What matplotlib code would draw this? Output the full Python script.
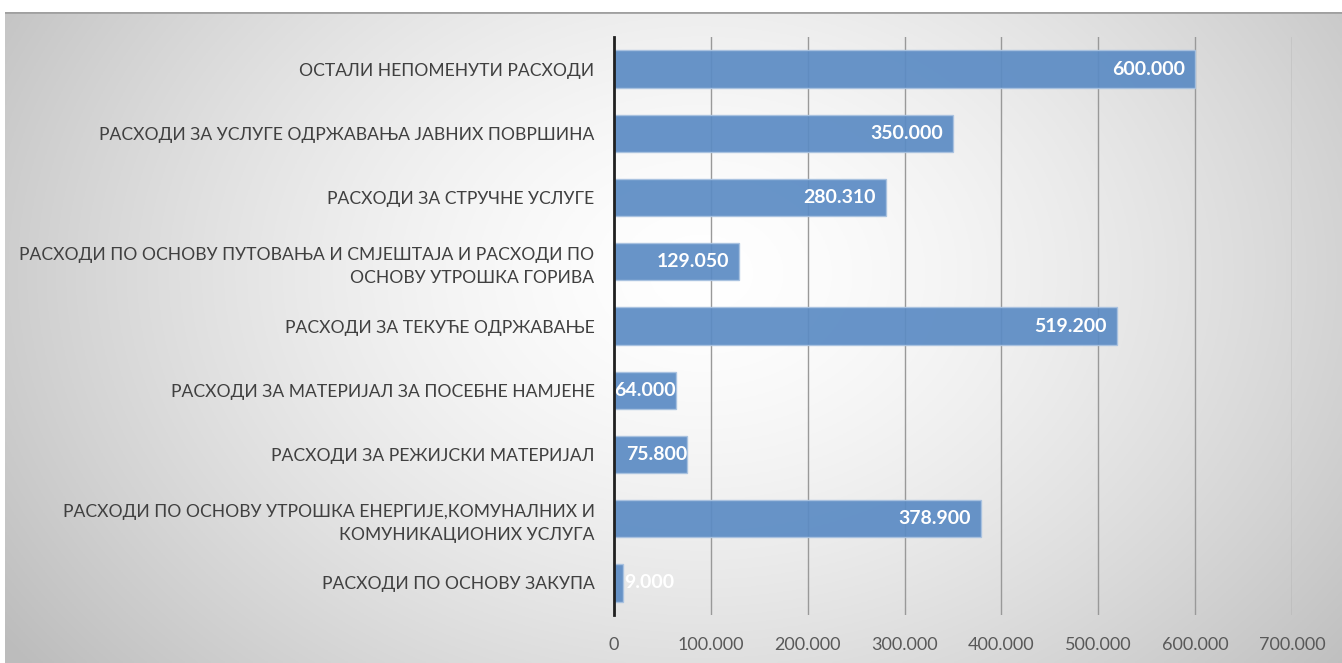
import numpy as np
import matplotlib
matplotlib.use("Agg")
import matplotlib.pyplot as plt

categories = [
    "РАСХОДИ ПО ОСНОВУ ЗАКУПА",
    "РАСХОДИ ПО ОСНОВУ УТРОШКА ЕНЕРГИЈЕ,КОМУНАЛНИХ И\nКОМУНИКАЦИОНИХ УСЛУГА",
    "РАСХОДИ ЗА РЕЖИЈСКИ МАТЕРИЈАЛ",
    "РАСХОДИ ЗА МАТЕРИЈАЛ ЗА ПОСЕБНЕ НАМЈЕНЕ",
    "РАСХОДИ ЗА ТЕКУЋЕ ОДРЖАВАЊЕ",
    "РАСХОДИ ПО ОСНОВУ ПУТОВАЊА И СМЈЕШТАЈА И РАСХОДИ ПО\nОСНОВУ УТРОШКА ГОРИВА",
    "РАСХОДИ ЗА СТРУЧНЕ УСЛУГЕ",
    "РАСХОДИ ЗА УСЛУГЕ ОДРЖАВАЊА ЈАВНИХ ПОВРШИНА",
    "ОСТАЛИ НЕПОМЕНУТИ РАСХОДИ",
]
values = [9000, 378900, 75800, 64000, 519200, 129050, 280310, 350000, 600000]
xticks = [0, 100000, 200000, 300000, 400000, 500000, 600000, 700000]


def fmt(v):
    return f"{v:,.0f}".replace(",", ".")


plt.rcParams['font.family'] = ['Lato', 'DejaVu Sans']

fig = plt.figure(figsize=(13.42, 6.63), dpi=100)

# radial gray background
bg = fig.add_axes([5 / 1342, 0, 1 - 5 / 1342, 1 - 12 / 663])
h, w = 300, 600
yy, xx = np.mgrid[0:h, 0:w]
r = np.sqrt(((xx - w * 0.52) / (w * 0.55)) ** 2 + ((yy - h * 0.40) / (h * 0.85)) ** 2)
g = np.clip(1.0 - 0.21 * r ** 1.5, 0.74, 1.0)
bg.imshow(np.dstack([g, g, g]), aspect='auto', extent=[0, 1, 0, 1])
bg.set_xlim(0, 1)
bg.set_ylim(0, 1)
bg.axhline(1, color='#a0a0a0', lw=2)
bg.axis('off')

ax = fig.add_axes([614 / 1342, 1 - 615 / 663, (1292 - 614) / 1342, (615 - 37) / 663])
ax.patch.set_alpha(0)
y = np.arange(len(categories))
ax.barh(y, values, height=0.58, color='#5b8bc4', edgecolor='#a9c2e0', linewidth=1, alpha=0.92, zorder=3)
for yi, v in zip(y, values):
    if v > 50000:
        ax.annotate(fmt(v), (v, yi), xytext=(-10 if v > 100000 else 0, 0), textcoords='offset pixels',
                    ha='right', va='center', color='white', fontsize=14, fontweight='bold', zorder=4)
    else:
        ax.annotate(fmt(v), (v, yi), xytext=(2, 0), textcoords='offset pixels',
                    ha='left', va='center', color='white', fontsize=14, fontweight='bold', zorder=4)

ax.set_xlim(0, 700000)
ax.set_ylim(-0.5, len(categories) - 0.5)
ax.set_xticks(xticks)
ax.set_xticklabels([fmt(t) for t in xticks], fontsize=13, color='#595959')
ax.set_yticks(y)
ax.set_yticklabels(categories, fontsize=12.6, color='#404040', linespacing=1.5)
ax.tick_params(axis='both', length=0)
ax.tick_params(axis='x', pad=16)
ax.tick_params(axis='y', pad=14)
ax.grid(axis='x', color='#999999', linewidth=1, zorder=0)
for s in ['top', 'right', 'bottom']:
    ax.spines[s].set_visible(False)
ax.spines['left'].set_color('#202020')
ax.spines['left'].set_linewidth(2)
ax.spines['left'].set_zorder(5)

fig.savefig("out.png", dpi=100)
